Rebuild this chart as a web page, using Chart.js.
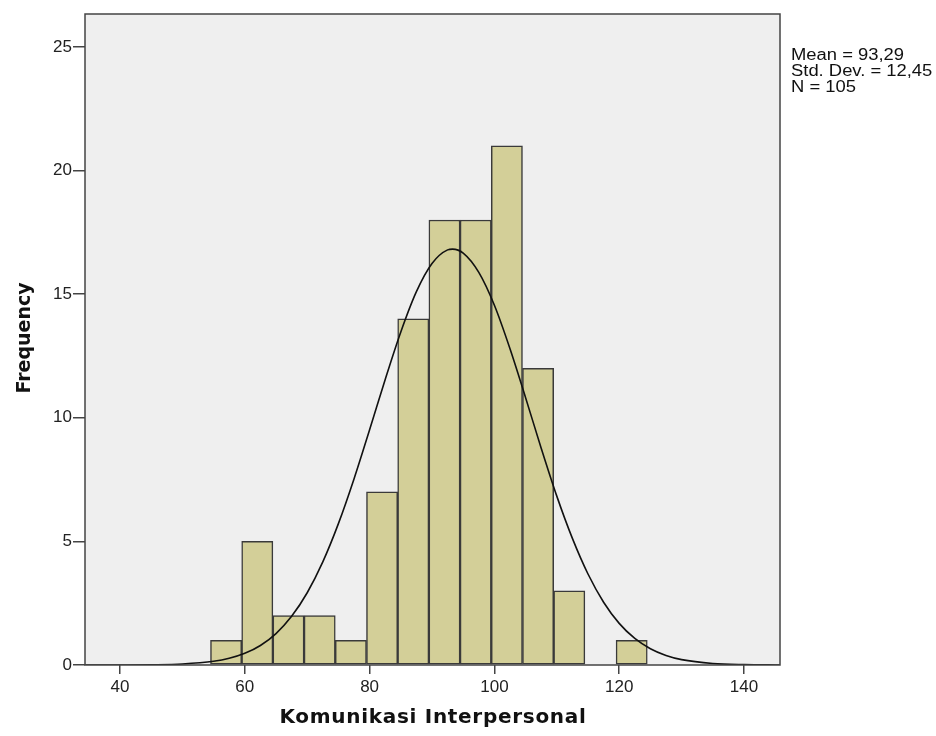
<!DOCTYPE html>
<html>
<head>
<meta charset="utf-8">
<script src="https://cdn.jsdelivr.net/npm/chart.js@4.4.1/dist/chart.umd.min.js"></script>
<style>
  html, body { margin: 0; padding: 0; background: #ffffff; }
  #wrap { width: 936px; height: 736px; }
</style>
</head>
<body>
<div id="wrap"><canvas id="c" width="936" height="736"></canvas></div>
<script>
// ---- Data ----
const binCenters = [57, 62, 67, 72, 77, 82, 87, 92, 97, 102, 107, 112, 117, 122];
const binCounts  = [1, 5, 2, 2, 1, 7, 14, 18, 18, 21, 12, 3, 0, 1];

const curveX = [34.4, 35, 40, 45, 50, 55, 57.5, 60, 62.5, 65, 67.5, 70, 72.5, 75, 77.5, 80, 82.5, 85, 87.5, 90, 92.5, 93.29, 95, 97.5, 100, 102.5, 105, 107.5, 110, 112.5, 115, 117.5, 120, 122.5, 125, 127.5, 130, 135, 140, 145, 145.8];
const curveY = [0.0002, 0.0003, 0.0018, 0.009, 0.040, 0.149, 0.270, 0.471, 0.790, 1.272, 1.968, 2.923, 4.171, 5.717, 7.526, 9.514, 11.55, 13.47, 15.10, 16.24, 16.79, 16.82, 16.66, 15.88, 14.55, 12.79, 10.81, 8.77, 6.83, 5.12, 3.68, 2.54, 1.684, 1.073, 0.657, 0.386, 0.218, 0.062, 0.015, 0.003, 0.0025];

const xTicks = [40, 60, 80, 100, 120, 140];
const yTicks = [0, 5, 10, 15, 20, 25];

const xTitle = 'Komunikasi Interpersonal';
const yTitle = 'Frequency';
const statsLines = ['Mean = 93,29', 'Std. Dev. = 12,45', 'N = 105'];

// ---- Build chart ----
const barData = binCenters.map((x, i) => ({ x: x, y: binCounts[i] }));
const curveData = curveX.map((x, i) => ({ x: x, y: curveY[i] }));

const frameColor = '#444444';

const decor = {
  id: 'decor',
  beforeDraw(chart) {
    const { ctx, chartArea: a } = chart;
    ctx.save();
    ctx.fillStyle = '#ffffff';
    ctx.fillRect(0, 0, chart.width, chart.height);
    ctx.fillStyle = '#efefef';
    ctx.fillRect(a.left, a.top, a.right - a.left, a.bottom - a.top);
    ctx.restore();
  },
  afterDraw(chart) {
    const { ctx, chartArea: a } = chart;
    ctx.save();
    ctx.strokeStyle = frameColor;
    ctx.lineWidth = 1.5;
    ctx.strokeRect(a.left, a.top, a.right - a.left, a.bottom - a.top);

    ctx.fillStyle = '#111111';
    ctx.textAlign = 'center';
    ctx.textBaseline = 'middle';
    ctx.font = 'bold 20px "DejaVu Sans"';
    try { ctx.letterSpacing = '0.7px'; } catch (e) {}
    ctx.fillText(xTitle, 433, 718);
    try { ctx.letterSpacing = '0px'; } catch (e) {}

    ctx.save();
    ctx.font = 'bold 19px "DejaVu Sans"';
    ctx.translate(25, 338);
    ctx.rotate(-Math.PI / 2);
    ctx.fillText(yTitle, 0, 0);
    ctx.restore();

    ctx.font = '16px "Liberation Sans"';
    ctx.textAlign = 'left';
    ctx.textBaseline = 'alphabetic';
    ctx.fillStyle = '#111111';
    statsLines.forEach((s, i) => {
      ctx.save();
      ctx.translate(791, 60 + i * 16);
      ctx.scale(1.15, 1);
      ctx.fillText(s, 0, 0);
      ctx.restore();
    });
    ctx.restore();
  }
};

new Chart(document.getElementById('c'), {
  type: 'bar',
  data: {
    datasets: [
      {
        type: 'line',
        data: curveData,
        borderColor: '#111111',
        borderWidth: 1.6,
        pointRadius: 0,
        fill: false,
        cubicInterpolationMode: 'monotone',
        order: 0
      },
      {
        type: 'bar',
        data: barData,
        backgroundColor: '#d3cf98',
        borderColor: '#3a3a3a',
        borderWidth: 1.5,
        borderSkipped: false,
        barPercentage: 1.0,
        categoryPercentage: 1.0,
        order: 1
      }
    ]
  },
  options: {
    responsive: false,
    devicePixelRatio: 1,
    animation: false,
    layout: { padding: { left: 0, right: 156, top: 14, bottom: 0 } },
    plugins: { legend: { display: false }, tooltip: { enabled: false } },
    scales: {
      x: {
        type: 'linear',
        min: 34.39,
        max: 145.77,
        offset: false,
        afterBuildTicks: (s) => { s.ticks = xTicks.map(v => ({ value: v })); },
        afterFit: (s) => { s.height = 71; },
        ticks: {
          autoSkip: false,
          maxRotation: 0,
          padding: 3,
          color: '#222222',
          font: { family: 'Liberation Sans', size: 17 }
        },
        grid: {
          offset: false,
          drawOnChartArea: false,
          drawTicks: true,
          tickLength: 9,
          color: frameColor,
          lineWidth: 1.5
        },
        border: { display: false }
      },
      y: {
        type: 'linear',
        min: 0,
        max: 26.33,
        afterBuildTicks: (s) => { s.ticks = yTicks.map(v => ({ value: v })); },
        afterFit: (s) => { s.width = 85; },
        ticks: {
          padding: 1,
          color: '#222222',
          font: { family: 'Liberation Sans', size: 17 }
        },
        grid: {
          drawOnChartArea: false,
          drawTicks: true,
          tickLength: 12,
          color: frameColor,
          lineWidth: 1.5
        },
        border: { display: false }
      }
    }
  },
  plugins: [decor]
});
</script>
</body>
</html>
